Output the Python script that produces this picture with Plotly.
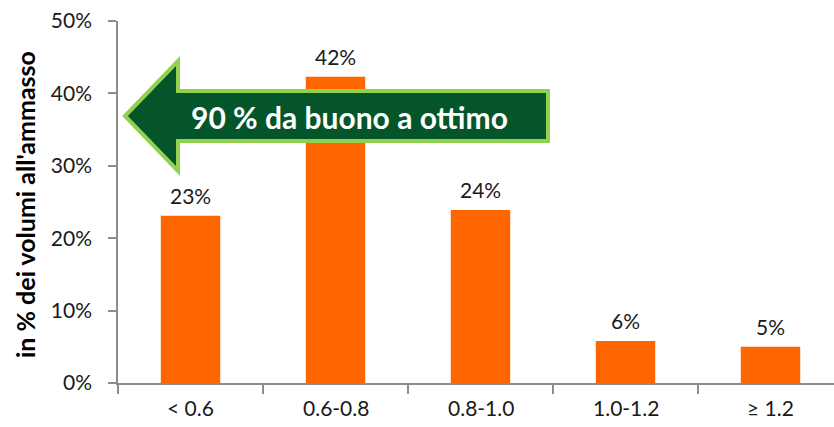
import plotly.graph_objects as go

categories = ["< 0.6", "0.6-0.8", "0.8-1.0", "1.0-1.2", "≥ 1.2"]
values = [23.1, 42.3, 23.9, 5.8, 5.0]
labels = ["23%", "42%", "24%", "6%", "5%"]
y_ticks = [0, 10, 20, 30, 40, 50]
y_ticktext = ["0%", "10%", "20%", "30%", "40%", "50%"]
y_title = "in % dei volumi all'ammasso"
arrow_text = "90 % da buono a ottimo"

W, H = 834, 427
ML, MR, MT, MB = 118, 0, 21, 44
PW, PH = W - ML - MR, H - MT - MB

def px(x):
    return (x - ML) / PW

def py(y):
    return (H - MB - y) / PH

FONT = "Lato, 'Open Sans', sans-serif"

fig = go.Figure()
fig.add_trace(go.Bar(
    x=categories, y=values, marker_color="#FF6600", marker_line_width=0,
    width=0.41, hoverinfo="skip",
))

for c, v, t in zip(categories, values, labels):
    fig.add_annotation(x=c, y=v, text=t, showarrow=False, yanchor="bottom",
                       yshift=6, font=dict(size=21, color="#1a1a1a", family=FONT))

# Arrow shape (paper coords from pixel positions)
pts = [(125, 116), (178, 61), (178, 91), (548, 91), (548, 141), (178, 141), (178, 171)]
path = "M " + " L ".join(f"{px(x):.5f},{py(y):.5f}" for x, y in pts) + " Z"
fig.add_shape(type="path", path=path, xref="paper", yref="paper",
              fillcolor="#04552A", line=dict(color="#92D050", width=4), layer="above")
fig.add_annotation(x=px(349), y=py(117), xref="paper", yref="paper", text=f"<b>{arrow_text}</b>",
                   showarrow=False, xanchor="center", yanchor="middle",
                   font=dict(size=30, color="white", family=FONT))

fig.add_annotation(x=px(25), y=py(205), xref="paper", yref="paper", text=f"<b>{y_title}</b>",
                   showarrow=False, textangle=-90, xanchor="center", yanchor="middle",
                   font=dict(size=25, color="#000000", family=FONT))

fig.update_layout(
    width=W, height=H, margin=dict(l=ML, r=MR, t=MT, b=MB),
    plot_bgcolor="white", paper_bgcolor="white", showlegend=False,
    bargap=0.59,
)
fig.update_xaxes(range=[-0.5, -0.5 + PW / 145], showline=True, linecolor="#8c8c8c", linewidth=1.5,
                 ticks="outside", ticklen=9, tickcolor="#8c8c8c", tickwidth=1.5,
                 tickmode="array", tickvals=[-0.5, 0.5, 1.5, 2.5, 3.5], ticktext=["", "", "", "", ""],
                 showgrid=False, zeroline=False)
# category labels
for c in categories:
    fig.add_annotation(x=c, y=0, text=c, showarrow=False, yanchor="top", yshift=-10,
                       font=dict(size=21, color="#1a1a1a", family=FONT))
fig.update_yaxes(range=[0, 50], tickvals=y_ticks, ticktext=y_ticktext, showline=True,
                 linecolor="#8c8c8c", linewidth=1.5, ticks="outside", ticklen=8,
                 tickcolor="#8c8c8c", tickwidth=1.5, showgrid=False, zeroline=False,
                 ticklabelstandoff=12,
                 tickfont=dict(size=21, color="#1a1a1a", family=FONT))

fig.write_html("out.html", config={"displayModeBar": False},
               post_script="document.body.style.margin='0';document.body.style.overflow='hidden';")
